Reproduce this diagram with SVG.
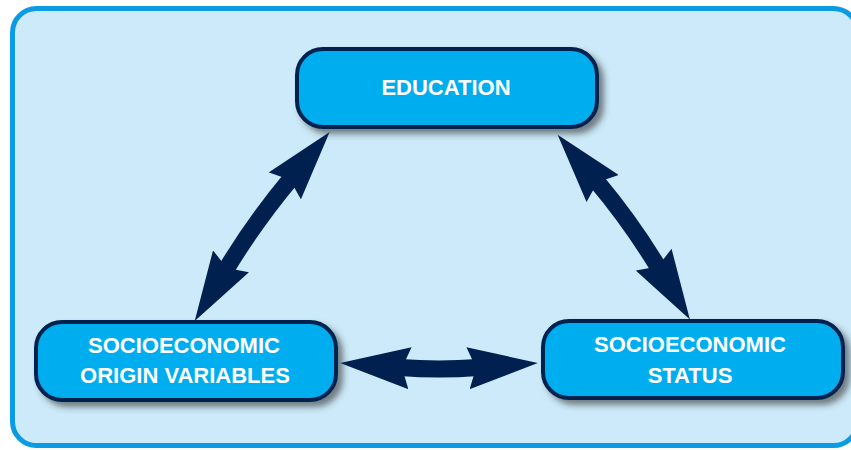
<svg xmlns="http://www.w3.org/2000/svg" width="851" height="450" viewBox="0 0 851 450">
<style>
.node rect{fill:#00aeef;stroke:#00214f;stroke-width:4;filter:url(#sh)}
.node text{font-family:"Liberation Sans",Arial,sans-serif;font-weight:bold;font-size:22px;fill:#ffffff;text-anchor:middle}
.conn path{fill:none;stroke:#00214f;stroke-width:17;marker-start:url(#ah);marker-end:url(#ah)}
</style>
<defs>
<filter id="sh" x="-10%" y="-20%" width="125%" height="150%">
<feGaussianBlur in="SourceAlpha" stdDeviation="3"/>
<feOffset dx="5" dy="5" result="b"/>
<feFlood flood-color="#333333" flood-opacity="0.6"/>
<feComposite in2="b" operator="in"/>
<feMerge><feMergeNode/><feMergeNode in="SourceGraphic"/></feMerge>
</filter>
<marker id="ah" viewBox="0 0 70 42" markerWidth="70" markerHeight="42" refX="10" refY="21" orient="auto-start-reverse" markerUnits="userSpaceOnUse">
<path d="M0,0 L70,21 L0,42 L8,21 Z" fill="#00214f"/>
</marker>
</defs>
<rect id="frame" x="12.5" y="8.5" width="845" height="437" rx="24" fill="#cceaf9" stroke="#0a9be3" stroke-width="5"/>
<g id="connectors" class="conn">
<path d="M291.2,178.2 Q255,221.6 225.8,269.8"/>
<path d="M596.2,180.8 Q630.8,222 658.8,268.2"/>
<path d="M400,367.5 Q439,370.5 478,367.5"/>
</g>
<g id="education" class="node">
<rect x="297" y="49" width="300" height="78" rx="26"/>
<text x="446" y="95">EDUCATION</text>
</g>
<g id="origin" class="node">
<rect x="36" y="322" width="300" height="78" rx="26"/>
<text x="184" y="353">SOCIOECONOMIC</text>
<text x="185" y="383">ORIGIN VARIABLES</text>
</g>
<g id="status" class="node">
<rect x="543" y="321" width="300" height="77" rx="26"/>
<text x="690" y="352">SOCIOECONOMIC</text>
<text x="690" y="383">STATUS</text>
</g>
</svg>
